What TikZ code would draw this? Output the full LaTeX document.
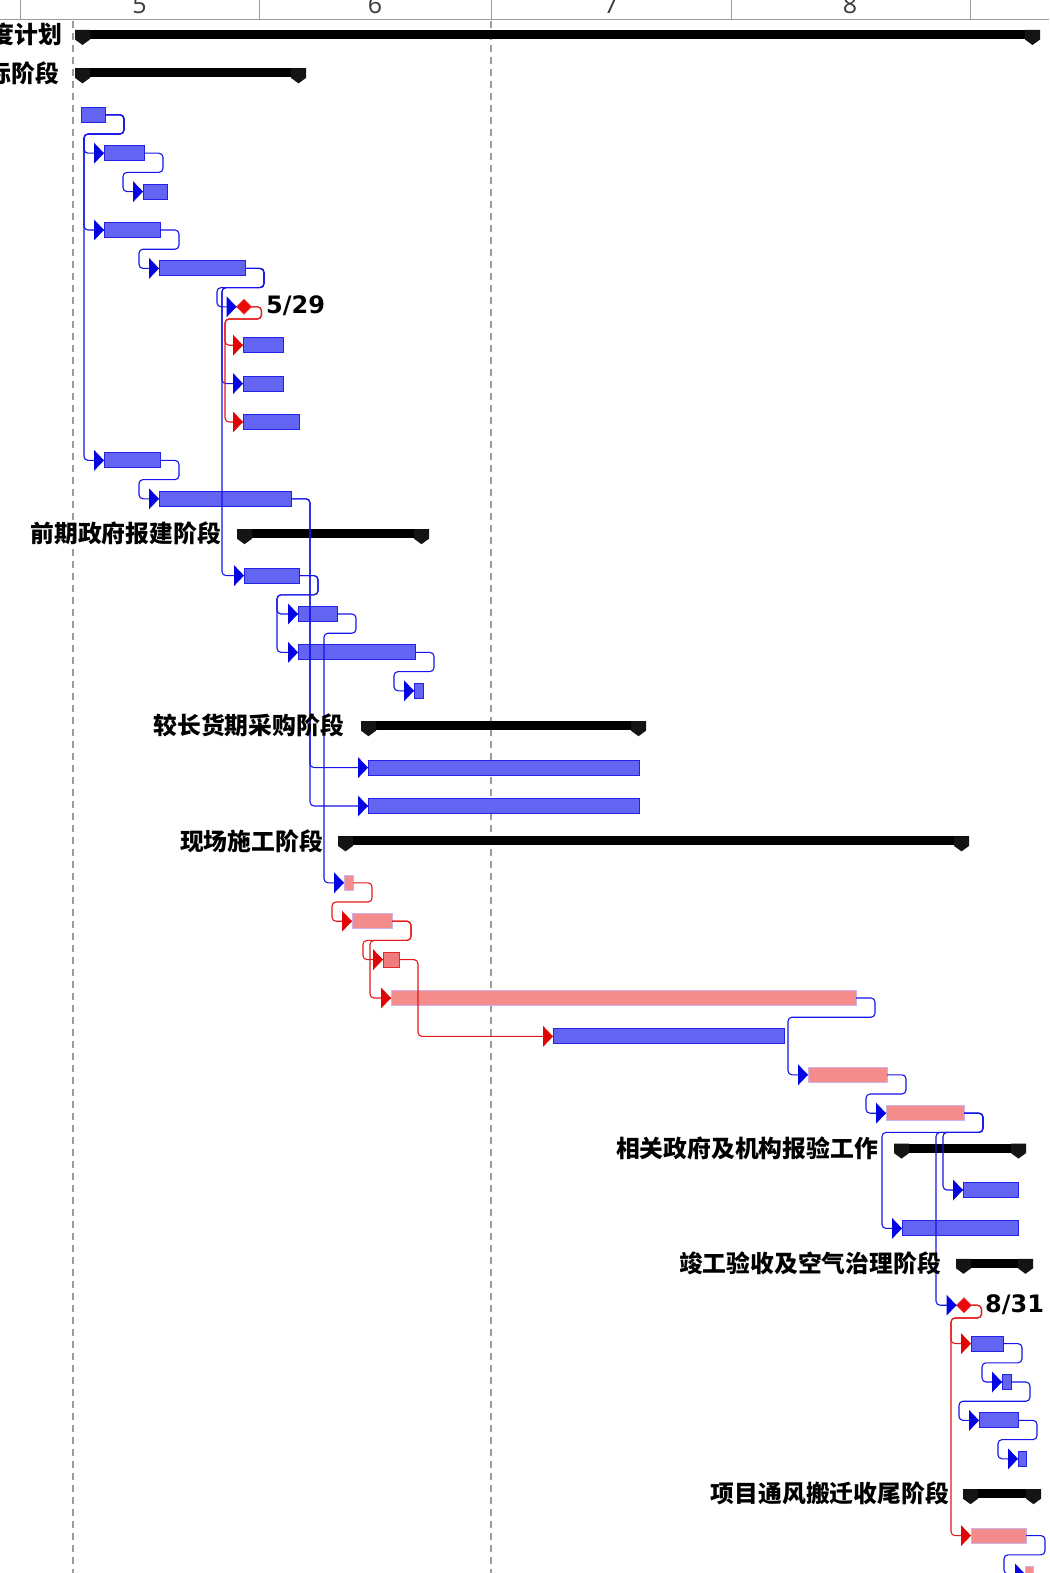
\documentclass[tikz,border=0pt]{standalone}
\usepackage{fontspec}
\setmainfont{DejaVu Sans}
\newfontfamily\cjk{Noto Sans CJK SC}
\newfontfamily\hdrf{Open Sans}
\usetikzlibrary{shapes.geometric}
\definecolor{lkblue}{RGB}{20,20,235}
\definecolor{tipblue}{RGB}{5,5,225}
\definecolor{lkred}{RGB}{228,25,25}
\definecolor{tipred}{RGB}{225,5,5}
\definecolor{barblue}{RGB}{100,100,242}
\definecolor{barblueedge}{RGB}{35,35,232}
\definecolor{pinkbar}{RGB}{245,140,140}
\definecolor{pinkedge}{RGB}{205,178,236}
\definecolor{redpat}{RGB}{240,125,125}
\definecolor{redpatedge}{RGB}{225,40,40}
\definecolor{msred}{RGB}{235,10,10}
\definecolor{gridgray}{RGB}{155,155,155}
\definecolor{hdrtext}{RGB}{60,60,60}
\newcommand\tk[5]{\node[#5, minimum width={(#4-#3)*1pt}] (#1) at ({(#3+#4)/2},{38+38.4*#2}) {};}
\newcommand\sm[4]{%
  \node[sumbar, minimum width={(#4-#3)*1pt}] (#1) at ({(#3+#4)/2},{34.5+38.4*#2}) {};
  \fill[shield] (#1.north west) -- ++(15,0) -- ++(0,9.5) -- ++(-7.5,5.5) -- ++(-7.5,-5.5) -- cycle;
  \fill[shield] (#1.north east) -- ++(-15,0) -- ++(0,9.5) -- ++(7.5,5.5) -- ++(7.5,-5.5) -- cycle;}
\newcommand\tipB[1]{\fill[tipblue] (#1.west) -- ++(-10,-10.5) -- ++(0,21) -- cycle;}
\newcommand\tipR[1]{\fill[tipred] (#1.west) -- ++(-10,-10.5) -- ++(0,21) -- cycle;}
\begin{document}
\begin{tikzpicture}[x=1pt,y=-1pt,
  bb/.style={rectangle, fill=barblue, draw=barblueedge, line width=0.9pt, minimum height=15pt, inner sep=0pt, outer sep=0pt},
  pb/.style={rectangle, fill=pinkbar, draw=pinkedge, line width=0.8pt, minimum height=15pt, inner sep=0pt, outer sep=0pt},
  rb/.style={rectangle, fill=redpat, draw=redpatedge, line width=0.9pt, minimum height=15pt, inner sep=0pt, outer sep=0pt},
  sumbar/.style={rectangle, fill=black, minimum height=9pt, inner sep=0pt, outer sep=0pt},
  shield/.style={fill=black!92},
  mstone/.style={diamond, fill=msred, draw=msred!80, line width=0.6pt, minimum width=15pt, minimum height=15pt, inner sep=0pt, outer sep=0pt},
  lkB/.style={draw=lkblue, line width=1.1pt, rounded corners=4pt},
  lkR/.style={draw=lkred, line width=1.1pt, rounded corners=4pt},
  lab/.style={font={\cjk\bfseries\fontsize{23.8pt}{28pt}\selectfont}, inner sep=0pt, text=black},
  dlab/.style={font={\bfseries\fontsize{24pt}{28pt}\selectfont}, inner sep=0pt, text=black},
  hdr/.style={font={\hdrf\fontsize{25pt}{28pt}\selectfont}, inner sep=0pt, text=hdrtext},
  gridln/.style={draw=gridgray, line width=1.4pt},
  dashln/.style={draw=gridgray, line width=1.2pt, dash pattern=on 7pt off 5pt}]
\useasboundingbox (0,0) rectangle (1049,1573);
\clip (0,0) rectangle (1049,1573);
\fill[white] (0,0) rectangle (1049,1573);
% header
\draw[gridln] (0,19.5) -- (1049,19.5);
\foreach \xx in {20,259,491,731,970} {\draw[gridgray, line width=1pt] (\xx,0) -- (\xx,19.5);}
\node[hdr, anchor=base] (h5) at (139.5,13.5) {5};
\node[hdr, anchor=base] (h6) at (375,13.5) {6};
\node[hdr, anchor=base] (h7) at (611,13.5) {7};
\node[hdr, anchor=base] (h8) at (850,13.5) {8};
% dashed lines
\draw[dashln] (73,21) -- (73,1573);
\draw[dashln] (491,21) -- (491,1573);
% summary bars
\sm{s0}{0}{75}{1040}
\sm{s1}{1}{75}{306}
\sm{s13}{13}{237}{429}
\sm{s18}{18}{361}{646}
\sm{s21}{21}{338}{969}
\sm{s29}{29}{894}{1026}
\sm{s32}{32}{956}{1033}
\sm{s38}{38}{963}{1041}
% task bars
\tk{t2}{2}{81}{105}{bb}
\tk{t3}{3}{104}{144}{bb}
\tk{t4}{4}{143}{167}{bb}
\tk{t5}{5}{104}{160}{bb}
\tk{t6}{6}{159}{245}{bb}
\node[mstone] (m7) at (244,{38+38.4*7}) {};
\tk{t8}{8}{243}{283}{bb}
\tk{t9}{9}{243}{283}{bb}
\tk{t10}{10}{243}{299}{bb}
\tk{t11}{11}{104}{160}{bb}
\tk{t12}{12}{159}{291}{bb}
\tk{t14}{14}{244}{299}{bb}
\tk{t15}{15}{298}{337}{bb}
\tk{t16}{16}{298}{415}{bb}
\tk{t17}{17}{414}{423}{bb}
\tk{t19}{19}{368}{639}{bb}
\tk{t20}{20}{368}{639}{bb}
\tk{t22}{22}{344}{353}{pb}
\tk{t23}{23}{352}{392}{pb}
\tk{t24}{24}{383}{399}{rb}
\tk{t25}{25}{391}{856}{pb}
\tk{t26}{26}{553}{784}{bb}
\tk{t27}{27}{808}{887}{pb}
\tk{t28}{28}{886}{964}{pb}
\tk{t30}{30}{963}{1018}{bb}
\tk{t31}{31}{902}{1018}{bb}
\node[mstone] (m33) at (964,{38+38.4*33}) {};
\tk{t34}{34}{971}{1003}{bb}
\tk{t35}{35}{1002}{1011}{bb}
\tk{t36}{36}{979}{1018}{bb}
\tk{t37}{37}{1018}{1026}{bb}
\tk{t39}{39}{971}{1026}{pb}
\tk{t40}{40}{1025}{1033}{pb}
% blue links
\draw[lkB] (t2.east) -- ++(19,0) |- (84,134) |- (t3.west);
\draw[lkB] (t2.east) -- ++(19,0) |- (84,134) |- (t5.west);
\draw[lkB] (t2.east) -- ++(19,0) |- (84,134) |- (t11.west);
\draw[lkB] (t3.east) -- ++(19,0) |- (123,172.4) |- (t4.west);
\draw[lkB] (t5.east) -- ++(19,0) |- (139,249.2) |- (t6.west);
\draw[lkB] (t6.east) -- ++(19,0) |- (217,287.6) |- (m7.west);
\draw[lkB] (t6.east) -- ++(19,0) |- (222,287.6) |- (t9.west);
\draw[lkB] (t6.east) -- ++(19,0) |- (222,287.6) |- (t14.west);
\draw[lkB] (t11.east) -- ++(19,0) |- (139,479.6) |- (t12.west);
\draw[lkB] (t12.east) -- ++(19,0) |- (t19.west);
\draw[lkB] (t12.east) -- ++(19,0) |- (t20.west);
\draw[lkB] (t14.east) -- ++(19,0) |- (277,594.8) |- (t15.west);
\draw[lkB] (t14.east) -- ++(19,0) |- (277,594.8) |- (t16.west);
\draw[lkB] (t15.east) -- ++(19,0) |- (324,633.2) |- (t22.west);
\draw[lkB] (t16.east) -- ++(19,0) |- (394,671.6) |- (t17.west);
\draw[lkB] (t25.east) -- ++(19,0) |- (788,1017.2) |- (t27.west);
\draw[lkB] (t27.east) -- ++(19,0) |- (866,1094) |- (t28.west);
\draw[lkB] (t28.east) -- ++(19,0) |- (943,1132.4) |- (t30.west);
\draw[lkB] (t28.east) -- ++(19,0) |- (882,1132.4) |- (t31.west);
\draw[lkB] (t28.east) -- ++(19,0) |- (936,1132.4) |- (m33.west);
\draw[lkB] (t34.east) -- ++(19,0) |- (982,1362.8) |- (t35.west);
\draw[lkB] (t35.east) -- ++(19,0) |- (959,1401.2) |- (t36.west);
\draw[lkB] (t36.east) -- ++(19,0) |- (998,1439.6) |- (t37.west);
\draw[lkB] (t39.east) -- ++(19,0) |- (1004,1554.8) |- (t40.west);
% red links
\draw[lkR] (m7.east) -- ++(10,0) |- (225,319) |- (t8.west);
\draw[lkR] (m7.east) -- ++(10,0) |- (225,319) |- (t10.west);
\draw[lkR] (t22.east) -- ++(19,0) |- (332,902) |- (t23.west);
\draw[lkR] (t23.east) -- ++(19,0) |- (363,940.4) |- (t24.west);
\draw[lkR] (t23.east) -- ++(19,0) |- (370,940.4) |- (t25.west);
\draw[lkR] (t24.east) -- ++(19,0) |- (t26.west);
\draw[lkR] (m33.east) -- ++(10,0) |- (951,1318) |- (t34.west);
\draw[lkR] (m33.east) -- ++(10,0) |- (951,1318) |- (t39.west);
% arrowheads
\tipB{t3}\tipB{t5}\tipB{t11}\tipB{t4}\tipB{t6}\tipB{m7}\tipB{t9}\tipB{t14}
\tipB{t12}\tipB{t19}\tipB{t20}\tipB{t15}\tipB{t16}\tipB{t22}\tipB{t17}
\tipB{t27}\tipB{t28}\tipB{t30}\tipB{t31}\tipB{m33}\tipB{t35}\tipB{t36}\tipB{t37}\tipB{t40}
\tipR{t8}\tipR{t10}\tipR{t23}\tipR{t24}\tipR{t25}\tipR{t26}\tipR{t34}\tipR{t39}
% labels
\node[lab, anchor=east] (n0) at (62,{34.5}) {度计划};
\node[lab, anchor=east] (n1) at (59,{34.5+38.4}) {标阶段};
\node[lab, anchor=east] (n13) at (221,{34.5+38.4*13}) {前期政府报建阶段};
\node[lab, anchor=east] (n18) at (344,{34.5+38.4*18}) {较长货期采购阶段};
\node[lab, anchor=east] (n21) at (323,{34.5+38.4*21}) {现场施工阶段};
\node[lab, anchor=east] (n29) at (878,{34.5+38.4*29}) {相关政府及机构报验工作};
\node[lab, anchor=east] (n32) at (941,{34.5+38.4*32}) {竣工验收及空气治理阶段};
\node[lab, anchor=east] (n38) at (949,{34.5+38.4*38}) {项目通风搬迁收尾阶段};
\node[dlab, anchor=base west] (d7) at (266,313) {5/29};
\node[dlab, anchor=base west] (d33) at (985,1312) {8/31};
\end{tikzpicture}
\end{document}
